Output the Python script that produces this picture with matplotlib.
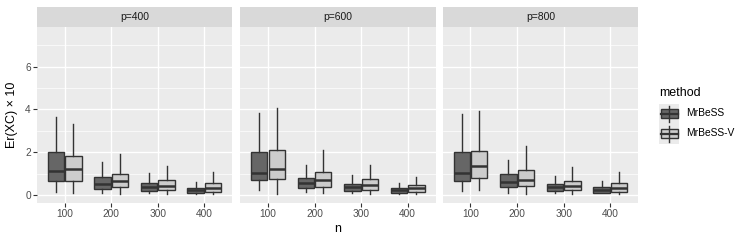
import numpy as np
import matplotlib
matplotlib.use("Agg")
import matplotlib.pyplot as plt
from matplotlib.patches import Rectangle

plt.rcParams['font.family'] = ['Liberation Sans', 'DejaVu Sans']

# data: per panel, per n, box stats (whisker low, Q1, median, Q3, whisker high)
panels = ["p=400", "p=600", "p=800"]
n_labels = ["100", "200", "300", "400"]
methods = ["MrBeSS", "MrBeSS-V"]

mrbess = {
    "p=400": [[0.14, 0.66, 1.14, 2.00, 3.64],
              [0.12, 0.28, 0.52, 0.84, 1.55],
              [0.09, 0.20, 0.36, 0.56, 1.05],
              [0.05, 0.12, 0.22, 0.31, 0.61]],
    "p=600": [[0.22, 0.70, 1.03, 2.00, 3.84],
              [0.14, 0.31, 0.55, 0.78, 1.41],
              [0.08, 0.20, 0.38, 0.52, 0.95],
              [0.05, 0.12, 0.23, 0.31, 0.56]],
    "p=800": [[0.17, 0.66, 1.03, 2.00, 3.77],
              [0.09, 0.36, 0.61, 0.97, 1.64],
              [0.09, 0.20, 0.36, 0.52, 0.89],
              [0.09, 0.12, 0.25, 0.36, 0.64]],
}
mrbess_v = {
    "p=400": [[0.09, 0.67, 1.23, 1.81, 3.34],
              [0.05, 0.38, 0.64, 1.00, 1.92],
              [0.05, 0.23, 0.44, 0.70, 1.36],
              [0.05, 0.16, 0.31, 0.56, 1.08]],
    "p=600": [[0.06, 0.75, 1.23, 2.09, 4.08],
              [0.09, 0.38, 0.70, 1.09, 2.11],
              [0.06, 0.25, 0.48, 0.73, 1.41],
              [0.05, 0.16, 0.31, 0.47, 0.86]],
    "p=800": [[0.25, 0.78, 1.34, 2.08, 3.95],
              [0.05, 0.41, 0.72, 1.17, 2.28],
              [0.06, 0.22, 0.44, 0.67, 1.30],
              [0.06, 0.16, 0.31, 0.56, 1.08]],
}

fills = ["#666666", "#cccccc"]
edge = "#333333"
W, H = 747, 242

def fx(x):
    return x / W

def fy(y):
    return 1 - y / H

fig = plt.figure(figsize=(W / 100, H / 100), dpi=100)

panel_x = [(36.7, 232.3), (240.0, 435.7), (442.5, 638.3)]
top, bot, strip_top = 27, 203, 7

for k, p in enumerate(panels):
    x0, x1 = panel_x[k]
    ax = fig.add_axes([fx(x0), fy(bot), fx(x1) - fx(x0), fy(top) - fy(bot)])
    ax.set_facecolor("#ebebeb")
    for s in ax.spines.values():
        s.set_visible(False)
    ax.set_xlim(0.4, 4.6)
    ax.set_ylim(-0.37, 7.85)
    for yv in [1, 3, 5, 7]:
        ax.axhline(yv, color="white", lw=0.5, zorder=0)
    for yv in [0, 2, 4, 6]:
        ax.axhline(yv, color="white", lw=1.0, zorder=0)
    for xv in range(1, 5):
        ax.axvline(xv, color="white", lw=1.0, zorder=0)

    for m, data in enumerate([mrbess, mrbess_v]):
        stats = []
        for i, row in enumerate(data[p]):
            stats.append(dict(whislo=row[0], q1=row[1], med=row[2], q3=row[3], whishi=row[4]))
        pos = [i + 1 + (m - 0.5) * 0.375 for i in range(4)]
        ax.bxp(stats, positions=pos, widths=0.35, patch_artist=True,
               showcaps=False, showfliers=False, manage_ticks=False,
               boxprops=dict(facecolor=fills[m], edgecolor=edge, lw=1.0),
               whiskerprops=dict(color=edge, lw=1.0),
               medianprops=dict(color=edge, lw=1.8))

    ax.set_xticks(range(1, 5))
    ax.set_xticklabels(n_labels)
    ax.tick_params(axis="x", length=2.75, color=edge, labelsize=7.3, labelcolor="#4d4d4d", pad=1.5, width=0.8)
    if k == 0:
        ax.set_yticks([0, 2, 4, 6])
        ax.tick_params(axis="y", length=2.75, color=edge, labelsize=7.3, labelcolor="#4d4d4d", pad=1.5, width=0.8)
    else:
        ax.set_yticks([])

    sax = fig.add_axes([fx(x0), fy(top), fx(x1) - fx(x0), fy(strip_top) - fy(top)])
    sax.set_facecolor("#d9d9d9")
    sax.set_xticks([])
    sax.set_yticks([])
    for s in sax.spines.values():
        s.set_visible(False)
    sax.text(0.5, 0.5, p, ha="center", va="center", fontsize=7.5, color="#1a1a1a",
             transform=sax.transAxes)

fig.text(fx(337.5), fy(229), "n", ha="center", va="center", fontsize=9)
fig.text(fx(12), fy(115), "Er(XC) \u00d7 10", ha="center", va="center",
         rotation=90, fontsize=9)

# legend
fig.text(fx(659), fy(93), "method", ha="left", va="center", fontsize=9)
lax = fig.add_axes([0, 0, 1, 1])
lax.set_xlim(0, W)
lax.set_ylim(H, 0)
lax.axis("off")
for m, name in enumerate(methods):
    ky = 103.5 + m * 20
    lax.add_patch(Rectangle((659, ky), 20, 20, facecolor="#ebebeb", edgecolor="none"))
    cx, cy = 669, ky + 10
    lax.plot([cx, cx], [ky + 2, ky + 18], color=edge, lw=1.0)
    lax.add_patch(Rectangle((660.5, cy - 4.5), 17, 9, facecolor=fills[m], edgecolor=edge, lw=1.0))
    lax.plot([660.5, 677.5], [cy, cy], color=edge, lw=1.6)
    lax.text(686, cy, name, ha="left", va="center", fontsize=7.4)

fig.savefig("out.png", dpi=100)
